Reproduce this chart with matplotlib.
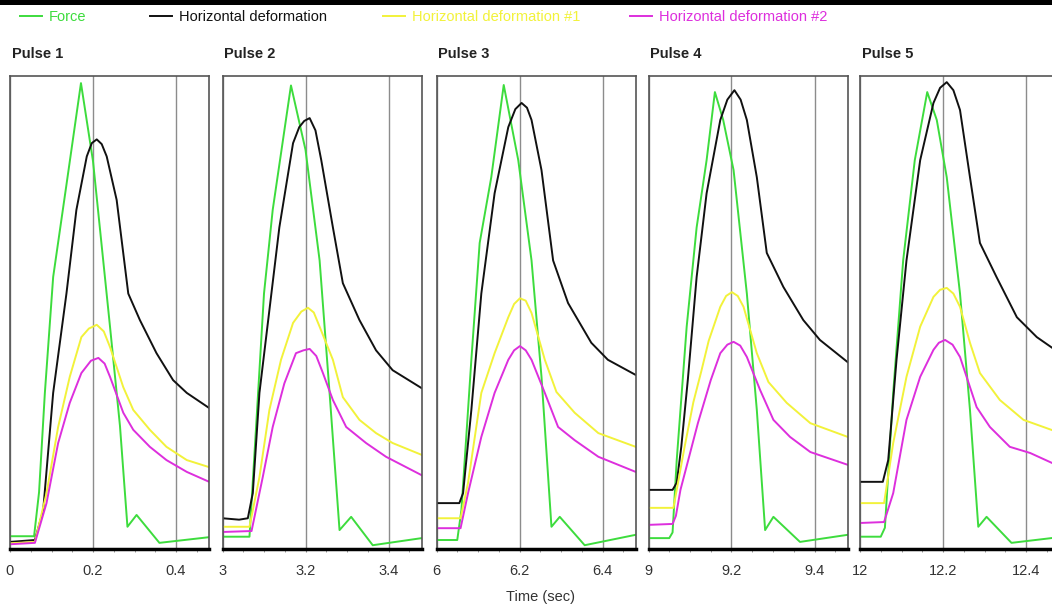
import matplotlib
matplotlib.use("Agg")
import matplotlib.pyplot as plt
from matplotlib.lines import Line2D
from matplotlib.patches import Rectangle
from matplotlib.ticker import MultipleLocator, FuncFormatter

plt.rcParams["font.family"] = ["Liberation Sans", "DejaVu Sans"]

pulse_names = ["Pulse 1", "Pulse 2", "Pulse 3", "Pulse 4", "Pulse 5"]
pulse_starts = [0, 3, 6, 9, 12]
series_names = ["Force", "Horizontal deformation",
                "Horizontal deformation #1", "Horizontal deformation #2"]
series_colors = ["#3ddc3d", "#111111", "#f2f23a", "#dd2fdd"]

# time since pulse start (s) and signal level (% of panel height)
force_t = [
    [0, 0.058, 0.07, 0.084, 0.104, 0.136, 0.171, 0.2, 0.241, 0.265, 0.283, 0.305, 0.36, 0.48],
    [0, 0.065, 0.081, 0.1, 0.121, 0.165, 0.2, 0.234, 0.258, 0.282, 0.31, 0.362, 0.48],
    [0, 0.05, 0.06, 0.084, 0.104, 0.132, 0.162, 0.197, 0.229, 0.253, 0.277, 0.297, 0.357, 0.48],
    [0, 0.05, 0.058, 0.068, 0.092, 0.116, 0.14, 0.16, 0.18, 0.205, 0.237, 0.261, 0.281, 0.301, 0.365, 0.48],
    [0, 0.05, 0.06, 0.08, 0.104, 0.132, 0.162, 0.185, 0.209, 0.241, 0.265, 0.285, 0.305, 0.365, 0.48],
]
force_v = [
    [2.7, 2.7, 12, 33, 57.5, 77, 98.5, 82, 47, 26, 4.7, 7.2, 1.3, 2.5],
    [2.6, 2.6, 25.9, 54, 71.7, 98, 84.4, 61, 33, 4, 6.8, 0.8, 2.3],
    [1.9, 1.9, 8.2, 40, 64.7, 78.6, 98.1, 82.2, 61, 36.4, 4.7, 6.8, 0.8, 3],
    [2.3, 2.3, 3.5, 18.8, 47, 68, 82.2, 96.6, 90.7, 80.1, 54, 29.4, 4, 6.8, 1.5, 3],
    [2.6, 2.6, 4.5, 33, 61, 82.2, 96.6, 90.7, 78.6, 54, 29.4, 4.7, 6.8, 1.3, 2.5],
]

defo_t = [
    [0, 0.06, 0.08, 0.104, 0.136, 0.16, 0.185, 0.197, 0.209, 0.221, 0.233, 0.257, 0.285, 0.313, 0.353, 0.393, 0.426, 0.48],
    [0, 0.04, 0.061, 0.073, 0.089, 0.113, 0.137, 0.17, 0.185, 0.197, 0.21, 0.224, 0.238, 0.266, 0.29, 0.33, 0.37, 0.41, 0.48],
    [0, 0.055, 0.064, 0.084, 0.108, 0.14, 0.173, 0.19, 0.205, 0.218, 0.229, 0.253, 0.281, 0.317, 0.373, 0.413, 0.48],
    [0, 0.058, 0.068, 0.079, 0.095, 0.116, 0.14, 0.173, 0.19, 0.207, 0.222, 0.237, 0.261, 0.285, 0.325, 0.373, 0.413, 0.48],
    [0, 0.055, 0.068, 0.088, 0.112, 0.145, 0.177, 0.193, 0.209, 0.225, 0.241, 0.265, 0.289, 0.329, 0.378, 0.426, 0.48],
]
defo_v = [
    [1.5, 1.9, 8.2, 33, 54, 71.7, 83, 85.8, 86.6, 85.6, 83, 73.8, 54, 48.4, 41.4, 35.7, 33, 29.8],
    [6.5, 6.2, 6.5, 11.8, 33, 50.5, 68, 85.8, 89.2, 90.5, 91.1, 88.5, 82.2, 68, 56.2, 48.4, 42, 37.8, 34],
    [9.7, 9.7, 11.8, 29.4, 54, 75.2, 89.2, 93, 94.3, 93.3, 90.7, 80.1, 61, 52, 43.6, 40, 36.8],
    [12.5, 12.5, 14, 21.6, 36, 57.5, 75.2, 90.7, 95, 97, 95, 90.7, 78.6, 62.6, 55.4, 48.4, 44.2, 39.5],
    [14.2, 14.2, 18.8, 40, 61, 82.2, 94.3, 97.5, 98.7, 97, 92.8, 78.6, 64.7, 57.5, 49, 44.8, 41.5],
]

defo1_t = [
    [0, 0.06, 0.088, 0.116, 0.144, 0.172, 0.19, 0.209, 0.226, 0.241, 0.273, 0.297, 0.337, 0.377, 0.426, 0.48],
    [0, 0.065, 0.089, 0.113, 0.141, 0.17, 0.19, 0.206, 0.22, 0.234, 0.266, 0.29, 0.33, 0.37, 0.41, 0.48],
    [0, 0.058, 0.076, 0.108, 0.14, 0.173, 0.187, 0.201, 0.215, 0.229, 0.261, 0.289, 0.333, 0.39, 0.48],
    [0, 0.06, 0.087, 0.108, 0.127, 0.145, 0.173, 0.187, 0.201, 0.215, 0.229, 0.261, 0.289, 0.333, 0.39, 0.48],
    [0, 0.058, 0.08, 0.112, 0.145, 0.177, 0.193, 0.209, 0.225, 0.241, 0.265, 0.289, 0.337, 0.394, 0.48],
]
defo1_v = [
    [1.2, 1.5, 11.8, 25.8, 36.4, 44.8, 46.6, 47.4, 46, 42.7, 34.2, 29.4, 25.2, 21.6, 18.8, 17.3],
    [4.7, 4.7, 15.2, 29.4, 40, 47.8, 50.2, 51, 50, 47, 40, 32.1, 27.3, 24.5, 22.4, 19.9],
    [6.5, 6.5, 14, 33, 41.4, 49, 51.8, 53, 52.5, 49.9, 40, 33.2, 28.8, 24.5, 21.6],
    [8.7, 8.7, 21.6, 31, 37.5, 44, 51.2, 53.5, 54.3, 53.5, 51.2, 41.4, 35.3, 30.9, 26.6, 23.7],
    [9.7, 9.7, 22.4, 36.4, 47, 53.3, 54.8, 55.2, 54, 51.2, 43.6, 37.2, 31.5, 27.3, 24.6],
]

defo2_t = [
    [0, 0.06, 0.088, 0.116, 0.144, 0.172, 0.195, 0.213, 0.228, 0.241, 0.273, 0.297, 0.337, 0.377, 0.426, 0.48],
    [0, 0.07, 0.097, 0.121, 0.149, 0.177, 0.195, 0.21, 0.226, 0.242, 0.266, 0.298, 0.346, 0.394, 0.48],
    [0, 0.058, 0.076, 0.108, 0.14, 0.173, 0.187, 0.201, 0.215, 0.229, 0.261, 0.293, 0.333, 0.39, 0.48],
    [0, 0.058, 0.066, 0.077, 0.119, 0.15, 0.173, 0.19, 0.205, 0.221, 0.237, 0.269, 0.301, 0.341, 0.39, 0.48],
    [0, 0.058, 0.08, 0.112, 0.145, 0.177, 0.19, 0.205, 0.223, 0.241, 0.281, 0.313, 0.361, 0.41, 0.48],
]
defo2_v = [
    [1.0, 1.3, 9.7, 22.4, 30.9, 37.2, 39.8, 40.4, 39.2, 36.4, 28.8, 25.2, 21.6, 18.8, 16.3, 14.2],
    [3.6, 3.8, 15.2, 25.8, 35, 41.4, 42, 42.3, 40.8, 37.2, 31.5, 25.8, 22.4, 19.5, 15.6],
    [4.4, 4.4, 11.8, 23.7, 33, 40, 42, 42.9, 42, 40, 33, 25.8, 23, 19.5, 16.3],
    [5.1, 5.3, 7, 12.5, 26.6, 35.7, 41.4, 43.2, 43.8, 43, 40.6, 33.6, 27.3, 23.7, 20.5, 17.8],
    [5.5, 5.7, 11.8, 27.3, 36.4, 42.1, 43.6, 44.2, 43.2, 40.6, 30, 25.8, 21.6, 20.3, 17.5],
]

all_t = [force_t, defo_t, defo1_t, defo2_t]
all_v = [force_v, defo_v, defo1_v, defo2_v]

W, H = 1052, 607
fig = plt.figure(figsize=(W / 100, H / 100), dpi=100)

panel_left_px = [10, 222.5, 436.5, 648.5, 860]
panel_w_px = 199.2
top_px, bottom_px = 76, 549

for i, start in enumerate(pulse_starts):
    ax = fig.add_axes([panel_left_px[i] / W, 1 - bottom_px / H,
                       panel_w_px / W, (bottom_px - top_px) / H])
    for k in range(4):
        ax.plot([start + t for t in all_t[k][i]], all_v[k][i],
                color=series_colors[k], lw=1.4, solid_joinstyle="round")
    ax.set_xlim(start, start + 0.48)
    ax.set_ylim(0, 100)
    ax.set_yticks([])
    ax.set_xticks([start, start + 0.2, start + 0.4])
    ax.xaxis.set_minor_locator(MultipleLocator(0.05))
    ax.xaxis.set_major_formatter(FuncFormatter(lambda x, _: f"{x:g}"))
    ax.tick_params(axis="x", which="both", direction="out", length=2.5,
                   color="#888888", pad=8, labelsize=10.5, labelcolor="#333333")
    ax.grid(True, axis="x", which="major", color="#8c8c8c", lw=1)
    for side in ["left", "right", "top"]:
        ax.spines[side].set_color("#555555")
        ax.spines[side].set_linewidth(1.2)
    ax.spines["bottom"].set_color("black")
    ax.spines["bottom"].set_linewidth(2.5)
    ax.text(0.01, 1 + 18 / (bottom_px - top_px), pulse_names[i], transform=ax.transAxes,
            fontsize=10.5, fontweight="bold", color="#222222", va="baseline", ha="left")

fig.text(540 / W, 1 - 597 / H, "Time (sec)", ha="center", va="center",
         fontsize=10.5, color="#333333")

# legend entries, each placed on its own
legend_x_px = [20, 150, 383, 630]
for k in range(4):
    h = Line2D([], [], color=series_colors[k], lw=1.4)
    fig.legend([h], [series_names[k]], loc="center left",
               bbox_to_anchor=(legend_x_px[k] / W, 1 - 17 / H), frameon=False,
               handlelength=1.5, handletextpad=0.5, borderpad=0, borderaxespad=0,
               fontsize=10.5, labelcolor="linecolor")

fig.add_artist(Rectangle((0, 1 - 5 / H), 1, 5 / H, transform=fig.transFigure,
                         color="black", lw=0))

fig.savefig("out.png", dpi=100)
